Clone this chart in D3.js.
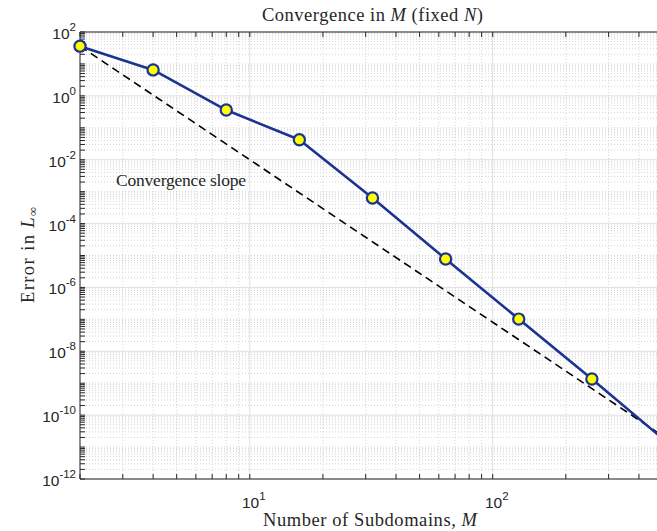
<!DOCTYPE html>
<html>
<head>
<meta charset="utf-8">
<script src="https://cdn.jsdelivr.net/npm/d3@7"></script>
<style>
  html, body { margin: 0; padding: 0; background: #fff; }
  svg { display: block; }
  .serif { font-family: "Liberation Serif", "DejaVu Serif", serif; fill: #262626; }
  .tick-label { font-family: "Liberation Sans", Arial, sans-serif; fill: #262626; }
</style>
</head>
<body>
<svg id="chart" width="657" height="531"></svg>
<script>
// Number of subdomains M and the measured L-infinity error
const subdomains = [2, 4, 8, 16, 32, 64, 128, 256, 512];
const errors = [36, 6.5, 0.36, 0.042, 6.3e-4, 7.8e-6, 1.02e-7, 1.35e-9, 1.6e-11];

// Reference convergence-slope line (endpoints)
const slopeM = [2, 512];
const slopeErr = [36, 2.0e-11];

// Axis limits and labelled ticks
const xDomain = [2, 512];
const yDomain = [1e-12, 1e2];
const xTickValues = [10, 100];
const xTickExponents = ["1", "2"];
const yTickValues = [1e2, 1e0, 1e-2, 1e-4, 1e-6, 1e-8, 1e-10, 1e-12];
const yTickExponents = ["2", "0", "-2", "-4", "-6", "-8", "-10", "-12"];

const svg = d3.select("#chart");
const m = { left: 80, top: 32, right: 665, bottom: 479 };

const x = d3.scaleLog().domain(xDomain).range([m.left, m.right]);
const y = d3.scaleLog().domain(yDomain).range([m.bottom, m.top]);

const axisColor = "#262626";

// minor tick positions for each decade
function minorTicks(lo, hi) {
  const out = [];
  for (let e = Math.floor(Math.log10(lo)); e <= Math.ceil(Math.log10(hi)); e++) {
    for (let k = 1; k <= 9; k++) {
      const v = k * Math.pow(10, e);
      if (v >= lo * 0.9999 && v <= hi * 1.0001) out.push(v);
    }
  }
  return out;
}
const xAll = minorTicks(xDomain[0], xDomain[1]);
const yAll = minorTicks(yDomain[0], yDomain[1]);
const isXMajor = v => xTickValues.some(t => Math.abs(t - v) / t < 1e-6);
const isYMajor = v => yTickValues.some(t => Math.abs(t - v) / t < 1e-6);

const grid = svg.append("g");
// minor grid (dotted)
grid.selectAll("line.xminor").data(xAll.filter(v => !isXMajor(v)))
  .join("line")
  .attr("x1", d => x(d)).attr("x2", d => x(d))
  .attr("y1", m.top).attr("y2", m.bottom)
  .attr("stroke", "#c4c4c4").attr("stroke-width", 0.7)
  .attr("stroke-dasharray", "1,2");
grid.selectAll("line.yminor").data(yAll.filter(v => !isYMajor(v)))
  .join("line")
  .attr("y1", d => y(d)).attr("y2", d => y(d))
  .attr("x1", m.left).attr("x2", m.right)
  .attr("stroke", "#c4c4c4").attr("stroke-width", 0.7)
  .attr("stroke-dasharray", "1,2");
// major grid (solid, light)
grid.selectAll("line.xmajor").data(xTickValues)
  .join("line")
  .attr("x1", d => x(d)).attr("x2", d => x(d))
  .attr("y1", m.top).attr("y2", m.bottom)
  .attr("stroke", "#e0e0e0").attr("stroke-width", 1);
grid.selectAll("line.ymajor").data(yTickValues)
  .join("line")
  .attr("y1", d => y(d)).attr("y2", d => y(d))
  .attr("x1", m.left).attr("x2", m.right)
  .attr("stroke", "#e0e0e0").attr("stroke-width", 1);

// axes box with inward ticks
const ax = svg.append("g").attr("stroke", axisColor).attr("stroke-width", 1);
ax.append("line").attr("x1", m.left).attr("x2", m.right).attr("y1", m.bottom).attr("y2", m.bottom);
ax.append("line").attr("x1", m.left).attr("x2", m.right).attr("y1", m.top).attr("y2", m.top);
ax.append("line").attr("x1", m.left).attr("x2", m.left).attr("y1", m.top).attr("y2", m.bottom);
ax.append("line").attr("x1", m.right).attr("x2", m.right).attr("y1", m.top).attr("y2", m.bottom);

const tl = 5;
ax.selectAll("line.xtb").data(xAll).join("line")
  .attr("x1", d => x(d)).attr("x2", d => x(d))
  .attr("y1", m.bottom).attr("y2", m.bottom - tl);
ax.selectAll("line.xtt").data(xAll).join("line")
  .attr("x1", d => x(d)).attr("x2", d => x(d))
  .attr("y1", m.top).attr("y2", m.top + tl);
ax.selectAll("line.ytl").data(yAll).join("line")
  .attr("y1", d => y(d)).attr("y2", d => y(d))
  .attr("x1", m.left).attr("x2", m.left + tl);
ax.selectAll("line.ytr").data(yAll).join("line")
  .attr("y1", d => y(d)).attr("y2", d => y(d))
  .attr("x1", m.right).attr("x2", m.right - tl);

// tick labels as 10 with superscript exponent
const yl = svg.append("g").attr("class", "tick-label");
yTickValues.forEach((v, i) => {
  const t = yl.append("text")
    .attr("x", m.left - 4).attr("y", y(v) + 7)
    .attr("text-anchor", "end").attr("font-size", 15.5);
  t.append("tspan").text("10");
  t.append("tspan").attr("dy", -8).attr("font-size", 11.5).text(yTickExponents[i]);
});
const xl = svg.append("g").attr("class", "tick-label");
xTickValues.forEach((v, i) => {
  const t = xl.append("text")
    .attr("x", x(v) + 4).attr("y", m.bottom + 29)
    .attr("text-anchor", "middle").attr("font-size", 15.5);
  t.append("tspan").text("10");
  t.append("tspan").attr("dy", -8).attr("font-size", 11.5).text(xTickExponents[i]);
});

// slope reference line
const slopeData = slopeM.map((mm, i) => ({ m: mm, e: slopeErr[i] }));
svg.append("path")
  .datum(slopeData)
  .attr("d", d3.line().x(d => x(d.m)).y(d => y(d.e)))
  .attr("fill", "none").attr("stroke", "#000").attr("stroke-width", 1.6)
  .attr("stroke-dasharray", "8,5");

// error curve
const data = subdomains.map((mm, i) => ({ m: mm, e: errors[i] }));
const blue = "#1b3391";
svg.append("path")
  .datum(data)
  .attr("d", d3.line().x(d => x(d.m)).y(d => y(d.e)))
  .attr("fill", "none").attr("stroke", blue).attr("stroke-width", 2.6)
  .attr("stroke-linejoin", "round");
svg.append("g").selectAll("circle").data(data).join("circle")
  .attr("cx", d => x(d.m)).attr("cy", d => y(d.e)).attr("r", 5.6)
  .attr("fill", "#ffff00").attr("stroke", blue).attr("stroke-width", 2.2);

// annotation
svg.append("text").attr("class", "serif")
  .attr("x", 116).attr("y", 186).attr("font-size", 17.5)
  .attr("textLength", 130).attr("lengthAdjust", "spacing")
  .text("Convergence slope");

// title
const title = svg.append("text").attr("class", "serif")
  .attr("x", 262).attr("y", 21).attr("font-size", 18.5)
  .attr("textLength", 221).attr("lengthAdjust", "spacing");
title.append("tspan").text("Convergence in ");
title.append("tspan").attr("font-style", "italic").text("M");
title.append("tspan").text(" (fixed ");
title.append("tspan").attr("font-style", "italic").text("N");
title.append("tspan").text(")");

// x label
const xlab = svg.append("text").attr("class", "serif")
  .attr("x", 263).attr("y", 526).attr("font-size", 18.5)
  .attr("textLength", 214).attr("lengthAdjust", "spacing");
xlab.append("tspan").text("Number of Subdomains, ");
xlab.append("tspan").attr("font-style", "italic").text("M");

// y label
const ylab = svg.append("text").attr("class", "serif")
  .attr("transform", `translate(34,303) rotate(-90)`)
  .attr("font-size", 18.5)
  .attr("textLength", 96).attr("lengthAdjust", "spacing");
ylab.append("tspan").text("Error in ");
ylab.append("tspan").attr("font-style", "italic").text("L");
ylab.append("tspan").attr("font-size", 12.5).attr("dy", 3).text("\u221E");
</script>
</body>
</html>
